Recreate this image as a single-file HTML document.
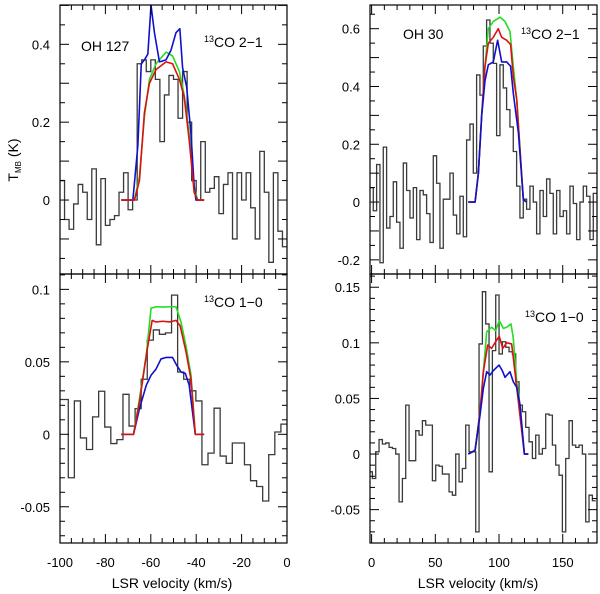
<!DOCTYPE html>
<html><head><meta charset="utf-8"><style>
html,body{margin:0;padding:0;background:#fff;}
svg{display:block;font-family:"Liberation Sans",sans-serif;}
</style></head><body>
<svg id="chart" width="600" height="594" viewBox="0 0 600 594" xmlns="http://www.w3.org/2000/svg"></svg>
<script>
// ---- Top-left: OH 127 13CO 2-1 ----
const tlObsStart = -100, tlObsWidth = 2;
const tlObs = [0.05,-0.05,-0.075,-0.01,0.04,0.02,-0.05,0.08,-0.115,0.055,-0.065,-0.05,-0.04,0.02,0.07,-0.025,0.0,0.35,0.36,0.33,0.36,0.31,0.15,0.27,0.32,0.31,0.21,0.33,0.2,0.05,0.0,0.15,0.02,0.03,0.06,-0.035,0.04,0.07,-0.1,0.07,0.0,0.07,-0.02,-0.1,0.125,0.02,-0.16,0.07,-0.08,-0.12];
const tlBlueV = [-73,-67.9,-65.7,-64.2,-62.8,-61.3,-59.9,-58.4,-56.2,-53.3,-51.1,-48.9,-47.2,-46,-44.2,-42.3,-40.9,-40.1,-36.5];
const tlBlueT = [0,0,0.14,0.35,0.36,0.375,0.50,0.43,0.355,0.36,0.385,0.43,0.44,0.34,0.29,0.17,0.035,0,0];
const tlGreenV = [-73,-67.2,-65,-62.8,-60.6,-57.7,-53.3,-50.4,-47.4,-45.3,-43.1,-40.9,-39.4,-36.5];
const tlGreenT = [0,0,0.06,0.215,0.31,0.35,0.38,0.37,0.33,0.27,0.17,0.035,0,0];
const tlRedV = [-73,-67.2,-65,-62.8,-60.6,-57.7,-53.3,-50.4,-47.4,-45.3,-43.1,-40.9,-39.4,-36.5];
const tlRedT = [0,0,0.05,0.225,0.30,0.335,0.355,0.35,0.31,0.265,0.155,0.02,0,0];
const tlYLabels = [0,0.2,0.4];

// ---- Top-right: OH 30 13CO 2-1 ----
const trObsStart = -1.3, trObsWidth = 2.616;
const trObs = [0.05,-0.03,0.13,-0.21,0.19,-0.09,-0.05,0.07,-0.07,-0.16,0.135,0.04,-0.055,0.05,-0.13,0.04,0.025,-0.04,-0.14,0.16,0.065,-0.16,0.01,0.01,0.1,-0.045,-0.11,0.02,-0.12,0.215,0.27,0.1,0.44,0.37,0.54,0.63,0.55,0.48,0.23,0.475,0.395,0.32,0.26,0.175,0.055,-0.055,0.01,-0.025,0.055,0.0,-0.11,0.04,-0.05,0.08,0.03,-0.11,0.04,-0.05,-0.03,-0.11,0.055,-0.005,-0.13,0.0,0.055,0.02,-0.13,0.03];
const trGreenV = [75.9,81.2,83.8,86.4,89.0,91.6,95.5,100.8,104.7,108.6,111.2,113.9,116.5,119.1,121.7];
const trGreenT = [0,0,0.1,0.3,0.47,0.6,0.625,0.64,0.625,0.59,0.47,0.355,0.18,0.008,0];
const trRedV = [75.9,81.2,83.8,86.4,89.0,91.6,95.5,99.4,102.1,106.0,109.1,111.2,113.9,116.5,119.1,121.7];
const trRedT = [0,0,0.1,0.3,0.47,0.55,0.57,0.60,0.57,0.56,0.545,0.435,0.355,0.18,0.008,0];
const trBlueV = [75.9,81.2,83.8,86.4,89.0,91.6,95.5,98.9,102.1,106.0,109.1,111.2,115.2,119.1,121.7];
const trBlueT = [0,0,0.1,0.3,0.42,0.475,0.485,0.56,0.485,0.485,0.47,0.377,0.24,0.008,0];
const trYLabels = [-0.2,0,0.2,0.4,0.6];

// ---- Bottom-left: OH 127 13CO 1-0 ----
const blObsStart = -101.7, blObsWidth = 2.676;
const blObs = [0.024,0.024,-0.030,0.023,-0.0025,-0.0105,0.012,0.0297,0.005,-0.0064,-0.0037,0.0276,0.0057,0.0177,0.038,0.065,0.072,0.069,0.070,0.096,0.043,0.038,0.030,0.023,-0.021,-0.013,0.018,-0.015,-0.020,-0.006,-0.006,-0.021,-0.032,-0.036,-0.046,-0.014,0.0016,0.007];
const blGreenV = [-73,-67.6,-65,-62,-59.9,-57.7,-54.7,-51.8,-48.9,-46.7,-44.5,-42.3,-40.4,-36.5];
const blGreenT = [0,0,0.0246,0.0545,0.087,0.088,0.0878,0.088,0.088,0.0775,0.061,0.041,0,0];
const blRedV = [-73,-67.6,-65,-62,-59.4,-57.7,-54.7,-51.8,-48.9,-47.1,-44.5,-42.3,-40.4,-36.5];
const blRedT = [0,0,0.022,0.0545,0.0786,0.0775,0.078,0.0775,0.0786,0.075,0.057,0.038,0,0];
const blBlueV = [-73,-67.6,-65,-62,-59.9,-57.7,-55.5,-53.3,-50.4,-48.6,-46.7,-44.8,-43.1,-40.4,-36.5];
const blBlueT = [0,0,0.0177,0.0338,0.0407,0.045,0.052,0.053,0.053,0.0476,0.043,0.042,0.034,0,0];
const blYLabels = [-0.05,0,0.05,0.1];
const leftXLabels = [-100,-80,-60,-40,-20,0];

// ---- Bottom-right: OH 30 13CO 1-0 ----
const brObsStart = -2.0, brObsWidth = 2.616;
const brObs = [-0.016,-0.022,0.002,0.013,0.009,0.010,0.006,0.005,0.0,-0.043,-0.022,0.044,-0.006,-0.006,0.021,0.017,0.030,0.026,0.026,-0.024,-0.010,-0.011,-0.018,-0.018,-0.034,-0.037,0.0,-0.025,-0.013,0.026,0.002,0.002,-0.070,0.099,0.146,0.117,-0.016,0.093,0.143,0.090,0.101,0.096,0.092,0.090,0.065,0.044,0.038,0.024,0.011,-0.004,0.017,0.0,0.005,0.036,0.035,0.008,-0.010,-0.019,-0.070,-0.004,0.030,0.008,0.006,0.008,0.0,-0.061,-0.037,-0.042];
const brGreenV = [75.9,81.2,85.1,87.7,90.3,94.2,97.4,100.2,103.4,106.0,109.4,111.2,113.9,116.5,119.9,123.0];
const brGreenT = [0,0.0033,0.038,0.074,0.11,0.114,0.111,0.12,0.113,0.114,0.117,0.104,0.065,0.044,0,0];
const brRedV = [75.9,81.2,85.1,87.7,91.1,94.2,96.8,100.2,102.9,106.0,109.9,112.5,115.2,119.9,123.0];
const brRedT = [0,0.0033,0.038,0.074,0.098,0.095,0.1,0.106,0.095,0.10,0.099,0.074,0.047,0,0];
const brBlueV = [75.9,81.2,85.1,87.7,90.3,92.9,95.5,100.0,102.6,104.7,108.6,111.2,113.9,116.5,119.9,123.0];
const brBlueT = [0,0.0033,0.035,0.059,0.074,0.071,0.075,0.08,0.075,0.069,0.074,0.065,0.06,0.044,0,0];
const brYLabels = [-0.05,0,0.05,0.1,0.15];
const rightXLabels = [0,50,100,150];

const NS = "http://www.w3.org/2000/svg";
const svg = document.getElementById('chart');
function mk(tag, attrs, parent){
  const e = document.createElementNS(NS, tag);
  for (const k in attrs) e.setAttribute(k, attrs[k]);
  (parent||svg).appendChild(e);
  return e;
}
let clipId = 0;
function panel(p){
  const g = mk('g', {});
  
  
  const sx = v => p.x0 + (v - p.xd[0]) / (p.xd[1] - p.xd[0]) * (p.x1 - p.x0);
  const sy = t => p.y1 - (t - p.yd[0]) / (p.yd[1] - p.yd[0]) * (p.y1 - p.y0);
  const cid = 'clip' + (clipId++);
  const cp = mk('clipPath', {id: cid}, g);
  mk('rect', {x: p.x0, y: p.y0, width: p.x1 - p.x0, height: p.y1 - p.y0}, cp);
  const inner = mk('g', {'clip-path': 'url(#' + cid + ')'}, g);
  // histogram
  let d = '';
  p.obs.forEach((t, i) => {
    const a = sx(p.obsStart + i * p.obsWidth), b = sx(p.obsStart + (i + 1) * p.obsWidth);
    d += (i === 0 ? 'M' : 'L') + a.toFixed(2) + ',' + sy(t).toFixed(2) + 'L' + b.toFixed(2) + ',' + sy(t).toFixed(2);
  });
  const h = mk('path', {d: d, fill: 'none', stroke: '#3a3a3a', 'stroke-width': 1.3}, inner);
  
  
  p.models.forEach(m => {
    const pts = m.v.map((v, i) => sx(v).toFixed(2) + ',' + sy(m.t[i]).toFixed(2)).join(' ');
    const l = mk('polyline', {points: pts, fill: 'none', stroke: m.c, 'stroke-width': 1.6, 'stroke-linejoin': 'round'}, inner);
    
    
  });
  // frame
  mk('rect', {x: p.x0, y: p.y0, width: p.x1 - p.x0, height: p.y1 - p.y0, fill: 'none', stroke: '#000', 'stroke-width': 1.2}, g);
  // x ticks
  for (let v = Math.ceil(p.xd[0] / p.xMinor) * p.xMinor; v <= p.xd[1] + 1e-9; v += p.xMinor) {
    const major = Math.abs(v / p.xMajor - Math.round(v / p.xMajor)) < 1e-6;
    const L = major ? 9 : 5, x = sx(v);
    mk('line', {x1: x, x2: x, y1: p.y1, y2: p.y1 - L, stroke: '#000', 'stroke-width': 1}, g);
    mk('line', {x1: x, x2: x, y1: p.y0, y2: p.y0 + L, stroke: '#000', 'stroke-width': 1}, g);
  }
  for (let t = Math.ceil(p.yd[0] / p.yMinor) * p.yMinor; t <= p.yd[1] + 1e-9; t += p.yMinor) {
    const major = Math.abs(t / p.yMajor - Math.round(t / p.yMajor)) < 1e-6;
    const L = major ? 9 : 5, y = sy(t);
    mk('line', {x1: p.x0, x2: p.x0 + L, y1: y, y2: y, stroke: '#000', 'stroke-width': 1}, g);
    mk('line', {x1: p.x1, x2: p.x1 - L, y1: y, y2: y, stroke: '#000', 'stroke-width': 1}, g);
  }
  p.yLabels.forEach(t => {
    const tx = mk('text', {x: p.x0 - 10, y: sy(t) + 5, 'text-anchor': 'end', 'font-size': 13}, g);
    tx.textContent = String(t);
    
    
  });
  if (p.xLabels) p.xLabels.forEach(v => {
    const tx = mk('text', {x: sx(v), y: 567, 'text-anchor': 'middle', 'font-size': 13}, g);
    tx.textContent = String(v);
    
    
  });
}
const left = {x0: 60, x1: 287, xd: [-100, 0], xMinor: 5, xMajor: 20};
const right = {x0: 370, x1: 597, xd: [-1.26, 176.9], xMinor: 10, xMajor: 50};
panel(Object.assign({name: 'panel-oh127-co21', y0: 5, y1: 274, yd: [-0.190, 0.501], yMinor: 0.05, yMajor: 0.1,
  obs: tlObs, obsStart: tlObsStart, obsWidth: tlObsWidth, yLabels: tlYLabels,
  models: [{v: tlGreenV, t: tlGreenT, c: '#22dd22', n: 'model-green'}, {v: tlBlueV, t: tlBlueT, c: '#1010cc', n: 'model-blue'}, {v: tlRedV, t: tlRedT, c: '#dd1111', n: 'model-red'}]}, left));
panel(Object.assign({name: 'panel-oh30-co21', y0: 5, y1: 274, yd: [-0.249, 0.682], yMinor: 0.05, yMajor: 0.1,
  obs: trObs, obsStart: trObsStart, obsWidth: trObsWidth, yLabels: trYLabels,
  models: [{v: trGreenV, t: trGreenT, c: '#22dd22', n: 'model-green'}, {v: trRedV, t: trRedT, c: '#dd1111', n: 'model-red'}, {v: trBlueV, t: trBlueT, c: '#1010cc', n: 'model-blue'}]}, right));
panel(Object.assign({name: 'panel-oh127-co10', y0: 274, y1: 543, yd: [-0.075, 0.1106], yMinor: 0.01, yMajor: 0.05,
  obs: blObs, obsStart: blObsStart, obsWidth: blObsWidth, yLabels: blYLabels, xLabels: leftXLabels,
  models: [{v: blGreenV, t: blGreenT, c: '#22dd22', n: 'model-green'}, {v: blBlueV, t: blBlueT, c: '#1010cc', n: 'model-blue'}, {v: blRedV, t: blRedT, c: '#dd1111', n: 'model-red'}]}, left));
panel(Object.assign({name: 'panel-oh30-co10', y0: 274, y1: 543, yd: [-0.080, 0.1619], yMinor: 0.01, yMajor: 0.05,
  obs: brObs, obsStart: brObsStart, obsWidth: brObsWidth, yLabels: brYLabels, xLabels: rightXLabels,
  models: [{v: brGreenV, t: brGreenT, c: '#22dd22', n: 'model-green'}, {v: brRedV, t: brRedT, c: '#dd1111', n: 'model-red'}, {v: brBlueV, t: brBlueT, c: '#1010cc', n: 'model-blue'}]}, right));
</script>
<svg style="position:absolute;left:0;top:0" width="600" height="594">
  <g font-family="Liberation Sans, sans-serif" font-size="14" fill="#000">
    <text x="81" y="51">OH 127</text>
    <text x="204" y="47"><tspan font-size="9" dy="-5">13</tspan><tspan dy="5">CO  2−1</tspan></text>
    <text x="403" y="39">OH 30</text>
    <text x="521" y="39"><tspan font-size="9" dy="-5">13</tspan><tspan dy="5">CO  2−1</tspan></text>
    <text x="204" y="307"><tspan font-size="9" dy="-5">13</tspan><tspan dy="5">CO  1−0</tspan></text>
    <text x="525" y="322"><tspan font-size="9" dy="-5">13</tspan><tspan dy="5">CO  1−0</tspan></text>
    <text x="172" y="588" text-anchor="middle">LSR velocity (km/s)</text>
    <text x="478" y="588" text-anchor="middle">LSR velocity (km/s)</text>
    <text transform="translate(18,160) rotate(-90)" text-anchor="middle">T<tspan font-size="8" dy="3">MB</tspan><tspan dy="-3"> (K)</tspan></text>
  </g>
</svg>
</body></html>
